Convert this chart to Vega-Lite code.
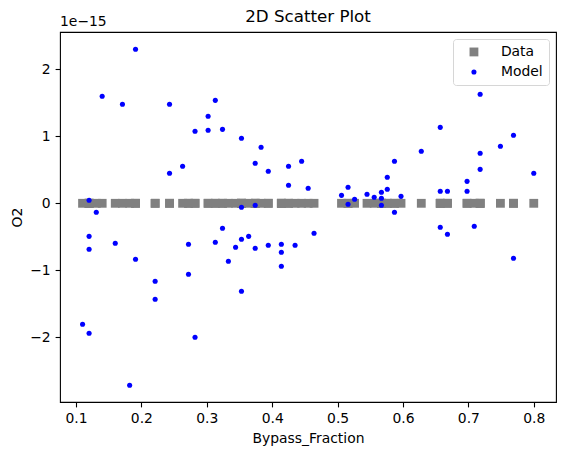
{
  "$schema": "https://vega.github.io/schema/vega-lite/v6.json",
  "width": 496,
  "height": 370,
  "autosize": "none",
  "padding": {"left": 60, "top": 32, "right": 9, "bottom": 53},
  "background": "white",
  "config": {
    "font": "DejaVu Sans",
    "view": {"stroke": "black", "strokeWidth": 1.1},
    "axis": {
      "domain": false,
      "grid": false,
      "ticks": true,
      "tickColor": "black",
      "tickSize": 4.9,
      "tickWidth": 1.1,
      "labelFont": "DejaVu Sans",
      "labelFontSize": 13.9,
      "labelColor": "black",
      "labelPadding": 4.9,
      "titleFont": "DejaVu Sans",
      "titleFontSize": 13.9,
      "titleFontWeight": "normal",
      "titleColor": "black",
      "titlePadding": 5.6
    },
    "title": {"font": "DejaVu Sans", "fontSize": 16.7, "fontWeight": "normal", "color": "black", "offset": 8}
  },
  "title": {"text": "2D Scatter Plot", "anchor": "middle", "frame": "group", "dy": 19},
  "layer": [
    {
      "data": {
        "values": [
          {"Bypass_Fraction": 0.110, "Data": 0, "Model": -1.806e-15},
          {"Bypass_Fraction": 0.120, "Data": 0, "Model": 0.045e-15},
          {"Bypass_Fraction": 0.120, "Data": 0, "Model": -0.493e-15},
          {"Bypass_Fraction": 0.120, "Data": 0, "Model": -0.687e-15},
          {"Bypass_Fraction": 0.120, "Data": 0, "Model": -1.940e-15},
          {"Bypass_Fraction": 0.131, "Data": 0, "Model": -0.134e-15},
          {"Bypass_Fraction": 0.140, "Data": 0, "Model": 1.597e-15},
          {"Bypass_Fraction": 0.160, "Data": 0, "Model": -0.597e-15},
          {"Bypass_Fraction": 0.171, "Data": 0, "Model": 1.478e-15},
          {"Bypass_Fraction": 0.182, "Data": 0, "Model": -2.716e-15},
          {"Bypass_Fraction": 0.191, "Data": 0, "Model": 2.300e-15},
          {"Bypass_Fraction": 0.191, "Data": 0, "Model": -0.836e-15},
          {"Bypass_Fraction": 0.221, "Data": 0, "Model": -1.164e-15},
          {"Bypass_Fraction": 0.221, "Data": 0, "Model": -1.433e-15},
          {"Bypass_Fraction": 0.243, "Data": 0, "Model": 1.478e-15},
          {"Bypass_Fraction": 0.243, "Data": 0, "Model": 0.448e-15},
          {"Bypass_Fraction": 0.263, "Data": 0, "Model": 0.552e-15},
          {"Bypass_Fraction": 0.272, "Data": 0, "Model": -0.612e-15},
          {"Bypass_Fraction": 0.272, "Data": 0, "Model": -1.060e-15},
          {"Bypass_Fraction": 0.282, "Data": 0, "Model": 1.075e-15},
          {"Bypass_Fraction": 0.282, "Data": 0, "Model": -2.000e-15},
          {"Bypass_Fraction": 0.302, "Data": 0, "Model": 1.300e-15},
          {"Bypass_Fraction": 0.302, "Data": 0, "Model": 1.090e-15},
          {"Bypass_Fraction": 0.313, "Data": 0, "Model": 1.537e-15},
          {"Bypass_Fraction": 0.313, "Data": 0, "Model": -0.582e-15},
          {"Bypass_Fraction": 0.324, "Data": 0, "Model": 1.104e-15},
          {"Bypass_Fraction": 0.324, "Data": 0, "Model": -0.373e-15},
          {"Bypass_Fraction": 0.333, "Data": 0, "Model": -0.866e-15},
          {"Bypass_Fraction": 0.344, "Data": 0, "Model": -0.657e-15},
          {"Bypass_Fraction": 0.353, "Data": 0, "Model": 0.970e-15},
          {"Bypass_Fraction": 0.353, "Data": 0, "Model": -0.060e-15},
          {"Bypass_Fraction": 0.353, "Data": 0, "Model": -0.537e-15},
          {"Bypass_Fraction": 0.353, "Data": 0, "Model": -1.313e-15},
          {"Bypass_Fraction": 0.364, "Data": 0, "Model": -0.493e-15},
          {"Bypass_Fraction": 0.374, "Data": 0, "Model": 0.597e-15},
          {"Bypass_Fraction": 0.374, "Data": 0, "Model": -0.030e-15},
          {"Bypass_Fraction": 0.374, "Data": 0, "Model": -0.672e-15},
          {"Bypass_Fraction": 0.383, "Data": 0, "Model": 0.836e-15},
          {"Bypass_Fraction": 0.394, "Data": 0, "Model": 0.478e-15},
          {"Bypass_Fraction": 0.394, "Data": 0, "Model": -0.627e-15},
          {"Bypass_Fraction": 0.414, "Data": 0, "Model": -0.612e-15},
          {"Bypass_Fraction": 0.414, "Data": 0, "Model": -0.731e-15},
          {"Bypass_Fraction": 0.414, "Data": 0, "Model": -0.940e-15},
          {"Bypass_Fraction": 0.425, "Data": 0, "Model": 0.552e-15},
          {"Bypass_Fraction": 0.425, "Data": 0, "Model": 0.269e-15},
          {"Bypass_Fraction": 0.435, "Data": 0, "Model": -0.627e-15},
          {"Bypass_Fraction": 0.445, "Data": 0, "Model": 0.627e-15},
          {"Bypass_Fraction": 0.455, "Data": 0, "Model": 0.224e-15},
          {"Bypass_Fraction": 0.464, "Data": 0, "Model": -0.448e-15},
          {"Bypass_Fraction": 0.506, "Data": 0, "Model": 0.119e-15},
          {"Bypass_Fraction": 0.516, "Data": 0, "Model": 0.239e-15},
          {"Bypass_Fraction": 0.516, "Data": 0, "Model": -0.015e-15},
          {"Bypass_Fraction": 0.526, "Data": 0, "Model": 0.060e-15},
          {"Bypass_Fraction": 0.545, "Data": 0, "Model": 0.134e-15},
          {"Bypass_Fraction": 0.556, "Data": 0, "Model": 0.090e-15},
          {"Bypass_Fraction": 0.567, "Data": 0, "Model": 0.164e-15},
          {"Bypass_Fraction": 0.567, "Data": 0, "Model": 0.075e-15},
          {"Bypass_Fraction": 0.567, "Data": 0, "Model": -0.030e-15},
          {"Bypass_Fraction": 0.576, "Data": 0, "Model": 0.388e-15},
          {"Bypass_Fraction": 0.576, "Data": 0, "Model": 0.209e-15},
          {"Bypass_Fraction": 0.587, "Data": 0, "Model": 0.627e-15},
          {"Bypass_Fraction": 0.587, "Data": 0, "Model": -0.134e-15},
          {"Bypass_Fraction": 0.597, "Data": 0, "Model": 0.104e-15},
          {"Bypass_Fraction": 0.628, "Data": 0, "Model": 0.776e-15},
          {"Bypass_Fraction": 0.657, "Data": 0, "Model": 1.134e-15},
          {"Bypass_Fraction": 0.657, "Data": 0, "Model": 0.179e-15},
          {"Bypass_Fraction": 0.657, "Data": 0, "Model": -0.358e-15},
          {"Bypass_Fraction": 0.668, "Data": 0, "Model": 0.179e-15},
          {"Bypass_Fraction": 0.668, "Data": 0, "Model": -0.463e-15},
          {"Bypass_Fraction": 0.698, "Data": 0, "Model": 0.328e-15},
          {"Bypass_Fraction": 0.698, "Data": 0, "Model": 0.179e-15},
          {"Bypass_Fraction": 0.709, "Data": 0, "Model": -0.343e-15},
          {"Bypass_Fraction": 0.718, "Data": 0, "Model": 1.627e-15},
          {"Bypass_Fraction": 0.718, "Data": 0, "Model": 0.746e-15},
          {"Bypass_Fraction": 0.718, "Data": 0, "Model": 0.507e-15},
          {"Bypass_Fraction": 0.749, "Data": 0, "Model": 0.851e-15},
          {"Bypass_Fraction": 0.769, "Data": 0, "Model": 1.015e-15},
          {"Bypass_Fraction": 0.769, "Data": 0, "Model": -0.821e-15},
          {"Bypass_Fraction": 0.800, "Data": 0, "Model": 0.448e-15}
        ]
      },
      "transform": [{"fold": ["Data", "Model"], "as": ["series", "O2"]}],
      "mark": {"type": "point", "filled": true, "opacity": 1},
      "encoding": {
        "x": {
          "field": "Bypass_Fraction",
          "type": "quantitative",
          "scale": {"domain": [0.0755, 0.834], "nice": false, "zero": false},
          "axis": {"title": "Bypass_Fraction", "values": [0.1, 0.2, 0.3, 0.4, 0.5, 0.6, 0.7, 0.8], "format": ".1f"}
        },
        "y": {
          "field": "O2",
          "type": "quantitative",
          "scale": {"domain": [-2.966e-15, 2.557e-15], "nice": false, "zero": false},
          "axis": {
            "title": "O2",
            "values": [-2e-15, -1e-15, 0, 1e-15, 2e-15],
            "labelExpr": "format(datum.value * 1e15, '.0f')"
          }
        },
        "color": {
          "field": "series",
          "type": "nominal",
          "scale": {"domain": ["Data", "Model"], "range": ["#808080", "#0000ff"]},
          "legend": {
            "title": null,
            "orient": "top-right",
            "offset": 7,
            "labelFontSize": 13.9,
            "labelFont": "DejaVu Sans",
            "labelColor": "black",
            "strokeColor": "#d6d6d6",
            "cornerRadius": 3,
            "fillColor": "rgba(255,255,255,0.8)",
            "padding": 6,
            "symbolOffset": 8,
            "labelOffset": 20,
            "rowPadding": 5
          }
        },
        "shape": {
          "field": "series",
          "type": "nominal",
          "scale": {"domain": ["Data", "Model"], "range": ["square", "circle"]}
        },
        "size": {
          "field": "series",
          "type": "nominal",
          "scale": {"domain": ["Data", "Model"], "range": [78, 26]}
        },
        "order": {"field": "series", "sort": "ascending"}
      }
    },
    {
      "data": {"values": [{"label": "1e−15"}]},
      "mark": {"type": "text", "align": "left", "baseline": "bottom", "dy": -3, "fontSize": 13.9, "font": "DejaVu Sans", "color": "black"},
      "encoding": {
        "x": {"datum": 0.0755, "type": "quantitative"},
        "y": {"datum": 2.557e-15, "type": "quantitative"},
        "text": {"field": "label"}
      }
    }
  ]
}
